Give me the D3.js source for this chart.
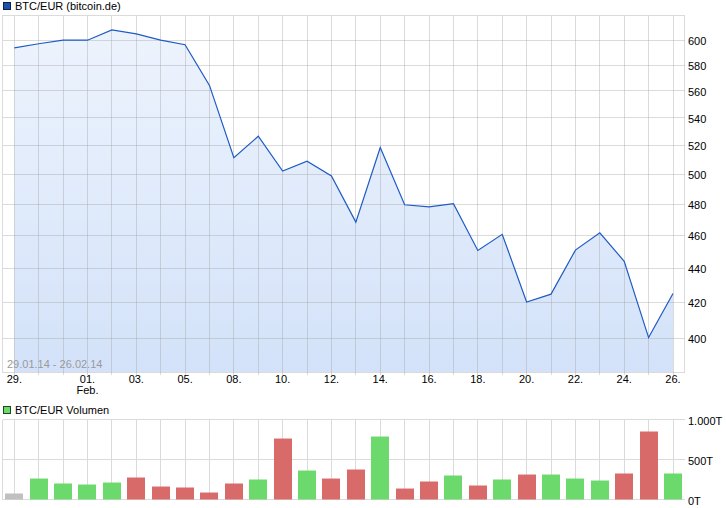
<!DOCTYPE html>
<html><head><meta charset="utf-8">
<script src="https://cdn.jsdelivr.net/npm/d3@7/dist/d3.min.js"></script>
<style>
html,body{margin:0;padding:0;background:#fff;}
svg text{font-family:"Liberation Sans",Arial,sans-serif;font-size:11px;fill:#000;}
</style></head>
<body><svg id="c" width="726" height="508"></svg>
<script>
const dates = ["29.01","30.01","31.01","01.02","02.02","03.02","04.02","05.02","07.02","08.02","09.02","10.02","11.02","12.02","13.02","14.02","15.02","16.02","17.02","18.02","19.02","20.02","21.02","22.02","23.02","24.02","25.02","26.02"];
const prices = [593.8,597.1,600,600,608.5,605.2,600,596.3,564.2,511.4,526.5,502.1,508.9,498.8,468.4,518.5,479.6,478.2,480.3,450.7,460.7,420.2,424.7,450.9,461.7,444.1,400.3,425.1];
const volumes = [75,262,200,187,212,275,162,150,87,200,250,762,362,262,375,787,137,225,300,175,250,312,312,262,237,325,850,325];
const tickDates = ["29.01","01.02","03.02","05.02","08.02","10.02","12.02","14.02","16.02","18.02","20.02","22.02","24.02","26.02"];
const priceTicks = [400,420,440,460,480,500,520,540,560,580,600];
const volTicks = [0,500,1000];
const volTickLabels = ["0T","500T","1.000T"];
const title = "BTC/EUR (bitcoin.de)";
const volTitle = "BTC/EUR Volumen";
const rangeText = "29.01.14 - 26.02.14";

const svg = d3.select("#c");
const L = 2.5, R = 684.5, T1 = 15.5, B1 = 372, T2 = 419.5, B2 = 499.5;
const x = d3.scalePoint().domain(dates).range([14.3, 673]);
const y = d3.scaleLog().domain([382, 620.5]).range([B1, T1]);
const yv = d3.scaleLinear().domain([0, 1000]).range([B2, T2]);
const px = v => Math.round(v - 0.5) + 0.5;

const defs = svg.append("defs");
const lg = defs.append("linearGradient").attr("id","fillg").attr("gradientUnits","userSpaceOnUse")
  .attr("x1",0).attr("x2",0).attr("y1",T1).attr("y2",B1);
lg.append("stop").attr("offset","0").attr("stop-color","#eef4fd");
lg.append("stop").attr("offset","1").attr("stop-color","#d3e2f9");

// title legend
svg.append("rect").attr("x",3.5).attr("y",2.5).attr("width",7).attr("height",7).attr("fill","#1d50a8").attr("stroke","#0a2050");
svg.append("text").attr("x",15).attr("y",10).text(title);

// area
const pts = dates.map((d,i)=>({d, v:prices[i]}));
svg.append("path").datum(pts)
  .attr("d", d3.area().x(p=>x(p.d)).y0(B1).y1(p=>y(p.v)))
  .attr("fill","url(#fillg)");

// grid top
const gT = svg.append("g").attr("stroke","rgba(160,160,160,0.38)").attr("stroke-width",1)
  .attr("fill","none").attr("shape-rendering","crispEdges");
priceTicks.forEach(t=>{ gT.append("line").attr("x1",L).attr("x2",R).attr("y1",px(y(t))).attr("y2",px(y(t))); });
dates.forEach(d=>{ gT.append("line").attr("x1",px(x(d))).attr("x2",px(x(d))).attr("y1",T1).attr("y2",B1+3); });
gT.append("rect").attr("x",L).attr("y",T1).attr("width",R-L).attr("height",px(B1)-T1);

// line
svg.append("path").datum(pts)
  .attr("d", d3.line().x(p=>x(p.d)).y(p=>y(p.v)))
  .attr("fill","none").attr("stroke","#1f5bc4").attr("stroke-width",1.2);

svg.append("text").attr("x",7).attr("y",368).style("fill","#9a9a9a").text(rangeText);

// y labels
priceTicks.forEach(t=>{ svg.append("text").attr("x",688).attr("y",y(t)+5).text(t); });

// x labels
tickDates.forEach(d=>{
  svg.append("text").attr("x",x(d)).attr("y",383).attr("text-anchor","middle").text(d.split(".")[0]+".");
  if (d==="01.02") svg.append("text").attr("x",x(d)).attr("y",394).attr("text-anchor","middle").text("Feb.");
});

// volume legend
svg.append("rect").attr("x",3.5).attr("y",406.5).attr("width",7).attr("height",7).attr("fill","#6bd96b").attr("stroke","#1a4a1a");
svg.append("text").attr("x",15).attr("y",414).text(volTitle);

// volume grid
const gB = svg.append("g").attr("stroke","#dadada").attr("stroke-width",1).attr("fill","none").attr("shape-rendering","crispEdges");
volTicks.forEach(t=>{ gB.append("line").attr("x1",L).attr("x2",R).attr("y1",yv(t)).attr("y2",yv(t)); });
dates.forEach(d=>{ gB.append("line").attr("x1",px(x(d))).attr("x2",px(x(d))).attr("y1",T2).attr("y2",B2); });
gB.append("line").attr("x1",L).attr("x2",L).attr("y1",T2).attr("y2",B2);

// bars
const bw = 18;
svg.append("g").selectAll("rect").data(dates).join("rect")
  .attr("x", d=>Math.round(x(d)-bw/2)).attr("width", bw)
  .attr("y", (d,i)=>yv(volumes[i])).attr("height",(d,i)=>B2-yv(volumes[i]))
  .attr("fill",(d,i)=> i===0 ? "#c0c0c0" : (prices[i]>=prices[i-1] ? "#6bd96b" : "#d96a6a"));

volTicks.forEach((t,i)=>{ svg.append("text").attr("x",688).attr("y",yv(t)+5).text(volTickLabels[i]); });
</script></body></html>
